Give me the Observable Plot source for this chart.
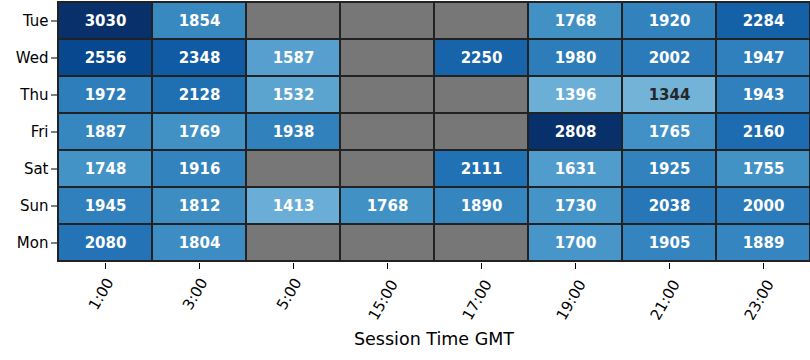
<!DOCTYPE html>
<html>
<head>
<meta charset="utf-8">
<script src="https://cdn.jsdelivr.net/npm/d3@7"></script>
<script src="https://cdn.jsdelivr.net/npm/@observablehq/plot@0.6"></script>
<style>
  html, body { margin: 0; padding: 0; background: #fff; }
</style>
</head>
<body>
<div id="chart"></div>
<script>
const days = ["Tue", "Wed", "Thu", "Fri", "Sat", "Sun", "Mon"];
const hours = ["1:00", "3:00", "5:00", "15:00", "17:00", "19:00", "21:00", "23:00"];
const tue = [3030, 1854, null, null, null, 1768, 1920, 2284];
const wed = [2556, 2348, 1587, null, 2250, 1980, 2002, 1947];
const thu = [1972, 2128, 1532, null, null, 1396, 1344, 1943];
const fri = [1887, 1769, 1938, null, null, 2808, 1765, 2160];
const sat = [1748, 1916, null, null, 2111, 1631, 1925, 1755];
const sun = [1945, 1812, 1413, 1768, 1890, 1730, 2038, 2000];
const mon = [2080, 1804, null, null, null, 1700, 1905, 1889];
const rows = [tue, wed, thu, fri, sat, sun, mon];
const xLabel = "Session Time GMT";
const blues9 = ["#f7fbff", "#deebf7", "#c6dbef", "#9ecae1", "#6baed6", "#4292c6", "#2171b5", "#08519c", "#08306b"];

const grid = [];
days.forEach((day, i) => hours.forEach((hour, j) => grid.push({day, hour, value: rows[i][j]})));
const data = grid.filter(d => d.value != null);
const shortHours = hours.filter(h => h.length <= 4);
const longHours = hours.filter(h => h.length > 4);

const chart = Plot.plot({
  width: 810,
  height: 360,
  marginLeft: 57,
  marginRight: 0,
  marginTop: 0,
  marginBottom: 97,
  style: {fontFamily: "DejaVu Sans", fontSize: "15px", color: "#000", background: "#fff"},
  x: {domain: hours, padding: 0},
  y: {domain: days, padding: 0},
  color: {type: "linear", domain: [0, 2808], clamp: true, interpolate: d3.piecewise(d3.interpolateRgb, blues9)},
  marks: [
    Plot.cell(grid, {x: "hour", y: "day", fill: "#777777", stroke: "#222222", strokeWidth: 2}),
    Plot.cell(data, {x: "hour", y: "day", fill: "value", stroke: "#222222", strokeWidth: 2}),
    Plot.text(data, {x: "hour", y: "day", text: d => String(d.value), fontWeight: "bold", fontSize: 15,
      fill: d => d.value < 1370 ? "#262626" : "#ffffff"}),
    Plot.axisY({tickSize: 6, tickPadding: 3, fontSize: 15, label: null, stroke: "#000"}),
    Plot.axisX({tickSize: 6, tickFormat: () => "", label: null, stroke: "#000"}),
    Plot.text(shortHours, {x: d => d, text: d => d, frameAnchor: "bottom", dy: 33, rotate: -60, textAnchor: "middle", fontSize: 15, fill: "#000"}),
    Plot.text(longHours, {x: d => d, text: d => d, frameAnchor: "bottom", dy: 39, rotate: -60, textAnchor: "middle", fontSize: 15, fill: "#000"}),
    Plot.text([xLabel], {text: d => d, frameAnchor: "bottom", dy: 81, fontSize: 17.5, fill: "#000"})
  ]
});
document.getElementById("chart").appendChild(chart);
chart.querySelectorAll("g[aria-label='y-axis tick label']").forEach(g => g.setAttribute("font-size", 15));
</script>
</body>
</html>
